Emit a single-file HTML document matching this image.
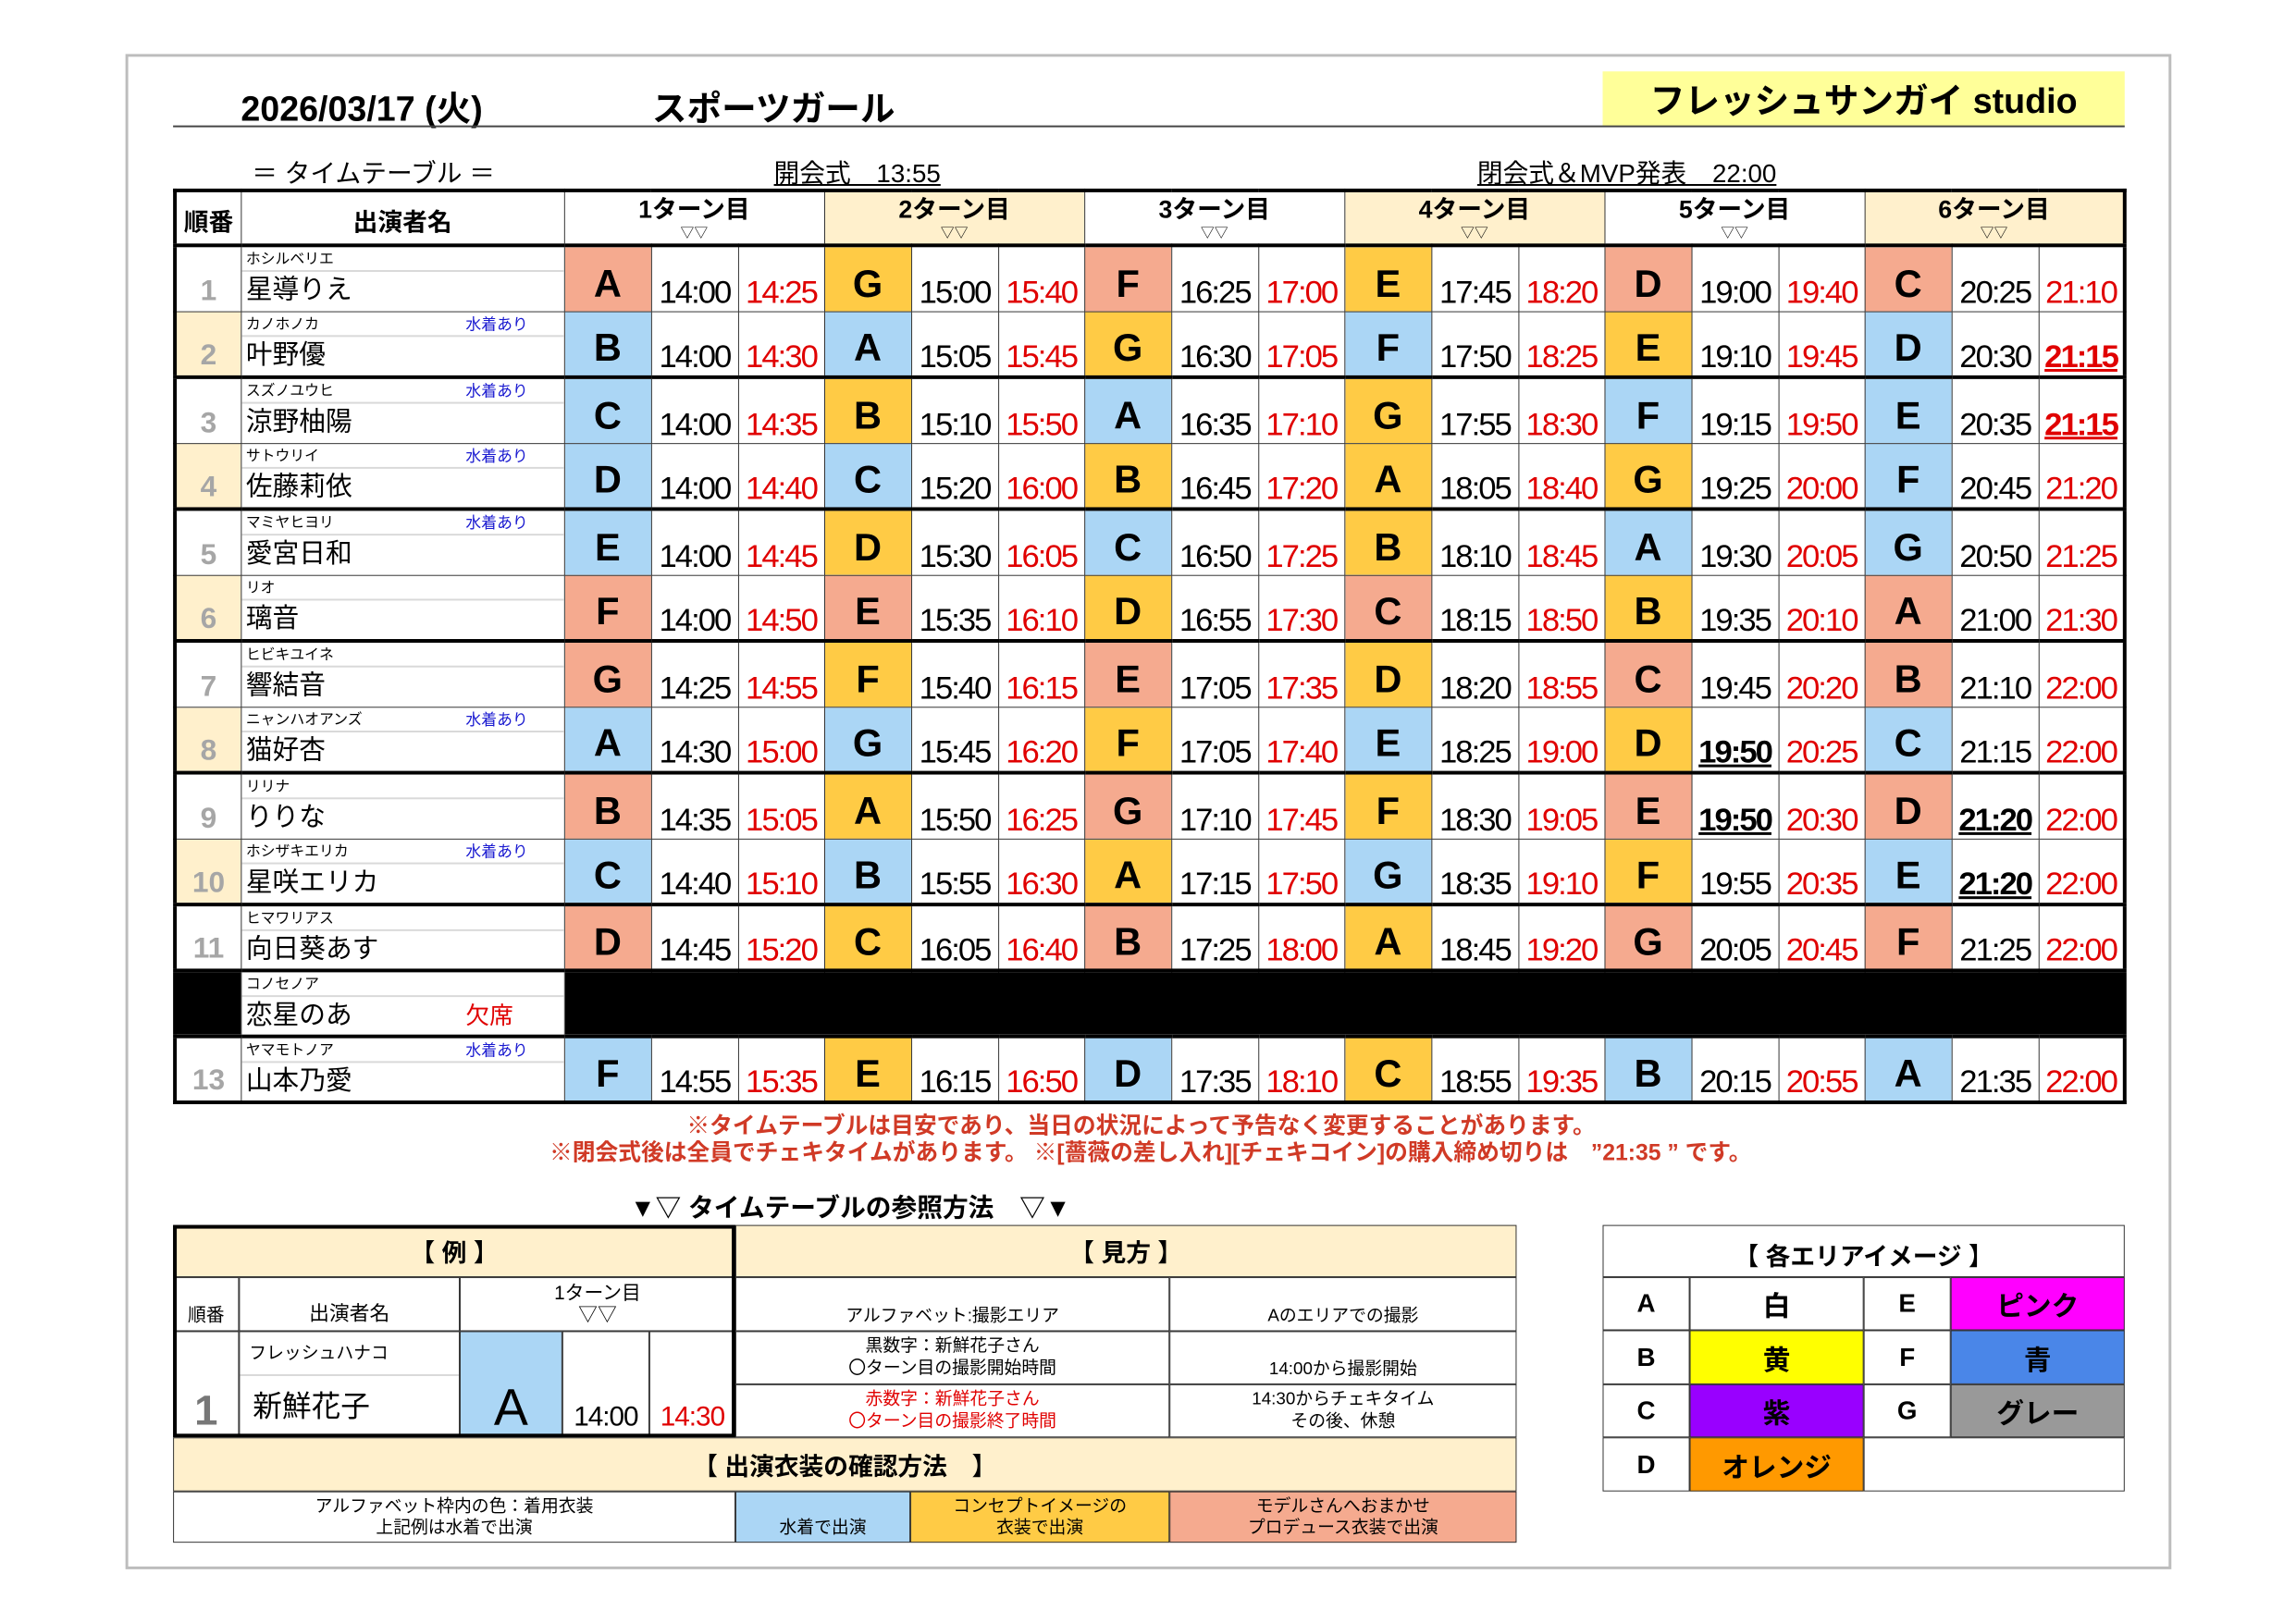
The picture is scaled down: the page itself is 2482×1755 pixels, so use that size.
<!DOCTYPE html>
<html><head><meta charset="utf-8">
<style>
*{margin:0;padding:0;box-sizing:border-box}
body{width:2482px;height:1755px;background:#fff;position:relative;overflow:hidden;font-family:"Liberation Sans","Noto Sans CJK JP",sans-serif;color:#000}
#w{position:absolute;left:0;top:0;width:2482px;height:1755px;transform:scale(0.99);transform-origin:0 0}
.a{position:absolute;white-space:nowrap}
.frame{left:137px;top:59px;width:2234px;height:1655px;border:3px solid #bdbdbd}
table.m{position:absolute;left:189px;top:206px;width:2131px;border-collapse:collapse;table-layout:fixed;border:4px solid #000}
table.m td{border:1.5px solid #333;overflow:hidden;white-space:nowrap;padding:0}
tr.h td{height:60px;font-weight:bold;text-align:center;vertical-align:bottom;border-bottom:4px solid #000}
tr.rw td{height:72px}
tr.k td{border-top:4px solid #000}
.no{text-align:center;vertical-align:bottom;color:#a6a6a6;font-weight:bold;font-size:32px;padding-bottom:4px!important}
.y{background:#fff0cc}
.nm{vertical-align:top;position:relative;text-align:left}
.kn{height:27px;font-size:16px;line-height:27px;padding-left:5px;border-bottom:2px solid #d9d9d9;position:relative}
.sw{position:absolute;left:245px;top:0;color:#1a1ad0;font-size:17px}
.nn{font-size:29px;line-height:41px;padding-left:5px;position:relative}
.L{text-align:center;font-weight:bold;font-size:42px;vertical-align:middle;padding-top:10px!important}
.s{background:#f5aa8f}.b{background:#abd6f5}.o{background:#ffcb45}
.t,.rd{text-align:center;vertical-align:bottom;font-size:35px;letter-spacing:-2px;line-height:40px}
.rd{color:#e00000}
.u{font-weight:bold;text-decoration:underline;text-decoration-thickness:3px}
.tn{font-size:27px;line-height:30px}
.tv{font-size:15px;line-height:22px;font-weight:normal}
.bx{position:absolute;border:1.5px solid #333;display:flex;align-items:center;justify-content:center;text-align:center;flex-direction:column;overflow:hidden}
</style></head><body><div id="w">
<div class="a frame"></div>
<div class="a" style="left:263px;top:88px;font-size:38px;font-weight:bold">2026/03/17 (火)</div>
<div class="a" style="left:712px;top:88px;font-size:38px;font-weight:bold">スポーツガール</div>
<div class="a" style="left:1750px;top:78px;width:570px;height:60px;background:#ffff99;font-size:38px;font-weight:bold;text-align:center;line-height:66px">フレッシュサンガイ studio</div>
<div class="a" style="left:189px;top:137px;width:2131px;height:2px;background:#444"></div>
<div class="a" style="left:275px;top:168px;font-size:28px">＝ タイムテーブル ＝</div>
<div class="a" style="left:845px;top:168px;font-size:28px;text-decoration:underline">開会式　13:55</div>
<div class="a" style="left:1613px;top:168px;font-size:28px;text-decoration:underline">閉会式＆MVP発表　22:00</div>

<table class="m">
<colgroup><col style="width:72px"><col style="width:353px">
<col style="width:95px"><col style="width:95px"><col style="width:94px">
<col style="width:95px"><col style="width:95px"><col style="width:94px">
<col style="width:95px"><col style="width:95px"><col style="width:94px">
<col style="width:95px"><col style="width:95px"><col style="width:94px">
<col style="width:95px"><col style="width:95px"><col style="width:94px">
<col style="width:95px"><col style="width:95px"><col style="width:94px"></colgroup>
<tr class="h"><td style="font-size:27px;padding-bottom:6px">順番</td><td style="font-size:27px;padding-bottom:6px">出演者名</td>
<td colspan="3"><div class="tn">1ターン目</div><div class="tv">▽▽</div></td>
<td colspan="3" class="y"><div class="tn">2ターン目</div><div class="tv">▽▽</div></td>
<td colspan="3"><div class="tn">3ターン目</div><div class="tv">▽▽</div></td>
<td colspan="3" class="y"><div class="tn">4ターン目</div><div class="tv">▽▽</div></td>
<td colspan="3"><div class="tn">5ターン目</div><div class="tv">▽▽</div></td>
<td colspan="3" class="y"><div class="tn">6ターン目</div><div class="tv">▽▽</div></td></tr>

<tr class="rw"><td class="no">1</td><td class="nm"><div class="kn">ホシルベリエ</div><div class="nn">星導りえ</div></td>
<td class="L s">A</td><td class="t">14:00</td><td class="rd">14:25</td><td class="L o">G</td><td class="t">15:00</td><td class="rd">15:40</td><td class="L s">F</td><td class="t">16:25</td><td class="rd">17:00</td><td class="L o">E</td><td class="t">17:45</td><td class="rd">18:20</td><td class="L s">D</td><td class="t">19:00</td><td class="rd">19:40</td><td class="L s">C</td><td class="t">20:25</td><td class="rd">21:10</td></tr>

<tr class="rw"><td class="no y">2</td><td class="nm"><div class="kn">カノホノカ<span class="sw">水着あり</span></div><div class="nn">叶野優</div></td>
<td class="L b">B</td><td class="t">14:00</td><td class="rd">14:30</td><td class="L b">A</td><td class="t">15:05</td><td class="rd">15:45</td><td class="L o">G</td><td class="t">16:30</td><td class="rd">17:05</td><td class="L b">F</td><td class="t">17:50</td><td class="rd">18:25</td><td class="L o">E</td><td class="t">19:10</td><td class="rd">19:45</td><td class="L b">D</td><td class="t">20:30</td><td class="rd u">21:15</td></tr>

<tr class="rw k"><td class="no">3</td><td class="nm"><div class="kn">スズノユウヒ<span class="sw">水着あり</span></div><div class="nn">涼野柚陽</div></td>
<td class="L b">C</td><td class="t">14:00</td><td class="rd">14:35</td><td class="L o">B</td><td class="t">15:10</td><td class="rd">15:50</td><td class="L b">A</td><td class="t">16:35</td><td class="rd">17:10</td><td class="L o">G</td><td class="t">17:55</td><td class="rd">18:30</td><td class="L b">F</td><td class="t">19:15</td><td class="rd">19:50</td><td class="L b">E</td><td class="t">20:35</td><td class="rd u">21:15</td></tr>

<tr class="rw"><td class="no y">4</td><td class="nm"><div class="kn">サトウリイ<span class="sw">水着あり</span></div><div class="nn">佐藤莉依</div></td>
<td class="L b">D</td><td class="t">14:00</td><td class="rd">14:40</td><td class="L b">C</td><td class="t">15:20</td><td class="rd">16:00</td><td class="L o">B</td><td class="t">16:45</td><td class="rd">17:20</td><td class="L o">A</td><td class="t">18:05</td><td class="rd">18:40</td><td class="L o">G</td><td class="t">19:25</td><td class="rd">20:00</td><td class="L b">F</td><td class="t">20:45</td><td class="rd">21:20</td></tr>

<tr class="rw k"><td class="no">5</td><td class="nm"><div class="kn">マミヤヒヨリ<span class="sw">水着あり</span></div><div class="nn">愛宮日和</div></td>
<td class="L b">E</td><td class="t">14:00</td><td class="rd">14:45</td><td class="L o">D</td><td class="t">15:30</td><td class="rd">16:05</td><td class="L b">C</td><td class="t">16:50</td><td class="rd">17:25</td><td class="L o">B</td><td class="t">18:10</td><td class="rd">18:45</td><td class="L b">A</td><td class="t">19:30</td><td class="rd">20:05</td><td class="L b">G</td><td class="t">20:50</td><td class="rd">21:25</td></tr>

<tr class="rw"><td class="no y">6</td><td class="nm"><div class="kn">リオ</div><div class="nn">璃音</div></td>
<td class="L s">F</td><td class="t">14:00</td><td class="rd">14:50</td><td class="L s">E</td><td class="t">15:35</td><td class="rd">16:10</td><td class="L o">D</td><td class="t">16:55</td><td class="rd">17:30</td><td class="L s">C</td><td class="t">18:15</td><td class="rd">18:50</td><td class="L o">B</td><td class="t">19:35</td><td class="rd">20:10</td><td class="L s">A</td><td class="t">21:00</td><td class="rd">21:30</td></tr>

<tr class="rw k"><td class="no">7</td><td class="nm"><div class="kn">ヒビキユイネ</div><div class="nn">響結音</div></td>
<td class="L s">G</td><td class="t">14:25</td><td class="rd">14:55</td><td class="L o">F</td><td class="t">15:40</td><td class="rd">16:15</td><td class="L s">E</td><td class="t">17:05</td><td class="rd">17:35</td><td class="L o">D</td><td class="t">18:20</td><td class="rd">18:55</td><td class="L s">C</td><td class="t">19:45</td><td class="rd">20:20</td><td class="L s">B</td><td class="t">21:10</td><td class="rd">22:00</td></tr>

<tr class="rw"><td class="no y">8</td><td class="nm"><div class="kn">ニャンハオアンズ<span class="sw">水着あり</span></div><div class="nn">猫好杏</div></td>
<td class="L b">A</td><td class="t">14:30</td><td class="rd">15:00</td><td class="L b">G</td><td class="t">15:45</td><td class="rd">16:20</td><td class="L o">F</td><td class="t">17:05</td><td class="rd">17:40</td><td class="L b">E</td><td class="t">18:25</td><td class="rd">19:00</td><td class="L o">D</td><td class="t u">19:50</td><td class="rd">20:25</td><td class="L b">C</td><td class="t">21:15</td><td class="rd">22:00</td></tr>

<tr class="rw k"><td class="no">9</td><td class="nm"><div class="kn">リリナ</div><div class="nn">りりな</div></td>
<td class="L s">B</td><td class="t">14:35</td><td class="rd">15:05</td><td class="L o">A</td><td class="t">15:50</td><td class="rd">16:25</td><td class="L s">G</td><td class="t">17:10</td><td class="rd">17:45</td><td class="L o">F</td><td class="t">18:30</td><td class="rd">19:05</td><td class="L s">E</td><td class="t u">19:50</td><td class="rd">20:30</td><td class="L s">D</td><td class="t u">21:20</td><td class="rd">22:00</td></tr>

<tr class="rw"><td class="no y">10</td><td class="nm"><div class="kn">ホシザキエリカ<span class="sw">水着あり</span></div><div class="nn">星咲エリカ</div></td>
<td class="L b">C</td><td class="t">14:40</td><td class="rd">15:10</td><td class="L b">B</td><td class="t">15:55</td><td class="rd">16:30</td><td class="L o">A</td><td class="t">17:15</td><td class="rd">17:50</td><td class="L b">G</td><td class="t">18:35</td><td class="rd">19:10</td><td class="L o">F</td><td class="t">19:55</td><td class="rd">20:35</td><td class="L b">E</td><td class="t u">21:20</td><td class="rd">22:00</td></tr>

<tr class="rw k"><td class="no">11</td><td class="nm"><div class="kn">ヒマワリアス</div><div class="nn">向日葵あす</div></td>
<td class="L s">D</td><td class="t">14:45</td><td class="rd">15:20</td><td class="L o">C</td><td class="t">16:05</td><td class="rd">16:40</td><td class="L s">B</td><td class="t">17:25</td><td class="rd">18:00</td><td class="L o">A</td><td class="t">18:45</td><td class="rd">19:20</td><td class="L s">G</td><td class="t">20:05</td><td class="rd">20:45</td><td class="L s">F</td><td class="t">21:25</td><td class="rd">22:00</td></tr>

<tr class="rw k"><td class="no" style="background:#000"></td><td class="nm"><div class="kn">コノセノア</div><div class="nn">恋星のあ<span style="position:absolute;left:245px;color:#e00000;font-size:26px">欠席</span></div></td>
<td colspan="18" style="background:#000"></td></tr>

<tr class="rw k"><td class="no">13</td><td class="nm"><div class="kn">ヤマモトノア<span class="sw">水着あり</span></div><div class="nn">山本乃愛</div></td>
<td class="L b">F</td><td class="t">14:55</td><td class="rd">15:35</td><td class="L o">E</td><td class="t">16:15</td><td class="rd">16:50</td><td class="L b">D</td><td class="t">17:35</td><td class="rd">18:10</td><td class="L o">C</td><td class="t">18:55</td><td class="rd">19:35</td><td class="L b">B</td><td class="t">20:15</td><td class="rd">20:55</td><td class="L b">A</td><td class="t">21:35</td><td class="rd">22:00</td></tr>
</table>

<div class="a" style="left:0;width:2482px;top:1210px;text-align:center;font-size:25px;font-weight:bold;color:#d03a26;padding-left:10px">※タイムテーブルは目安であり、当日の状況によって予告なく変更することがあります。</div>
<div class="a" style="left:600px;top:1239px;font-size:25px;font-weight:bold;color:#d03a26">※閉会式後は全員でチェキタイムがあります。 ※[薔薇の差し入れ][チェキコイン]の購入締め切りは　”21:35 ” です。</div>
<div class="a" style="left:688px;top:1298px;font-size:28px;font-weight:bold">▼▽ タイムテーブルの参照方法　▽▼</div>

<div class="bx y" style="left:189px;top:1338px;width:614px;height:57px;font-size:27px;font-weight:bold">【 例 】</div>
<div class="bx y" style="left:803px;top:1338px;width:853px;height:57px;font-size:27px;font-weight:bold">【 見方 】</div>
<div class="bx" style="left:189px;top:1395px;width:72px;height:59px;font-size:20px;justify-content:flex-end;padding-bottom:4px">順番</div>
<div class="bx" style="left:261px;top:1395px;width:241px;height:59px;font-size:22px;justify-content:flex-end;padding-bottom:4px">出演者名</div>
<div class="bx" style="left:502px;top:1395px;width:301px;height:59px;font-size:21px;line-height:24px">1ターン目<br>▽▽</div>
<div class="bx" style="left:803px;top:1395px;width:474px;height:59px;font-size:19px;justify-content:flex-end;padding-bottom:4px">アルファベット:撮影エリア</div>
<div class="bx" style="left:1277px;top:1395px;width:379px;height:59px;font-size:19px;justify-content:flex-end;padding-bottom:4px">Aのエリアでの撮影</div>
<div class="bx" style="left:189px;top:1454px;width:72px;height:116px;font-size:46px;color:#777;font-weight:bold;justify-content:flex-end;padding-bottom:2px">1</div>
<div class="bx" style="left:261px;top:1454px;width:241px;height:116px;align-items:flex-start;justify-content:flex-end">
<div style="font-size:19px;padding-left:10px;height:48px;line-height:48px;width:100%;text-align:left;border-bottom:2px solid #d9d9d9">フレッシュハナコ</div>
<div style="font-size:32px;padding-left:14px;height:66px;line-height:66px;width:100%;text-align:left">新鮮花子</div></div>
<div class="bx b" style="left:502px;top:1454px;width:112px;height:116px;font-size:56px;justify-content:flex-end">A</div>
<div class="bx" style="left:614px;top:1454px;width:95px;height:116px;font-size:30px;letter-spacing:-1px;justify-content:flex-end;padding-bottom:4px">14:00</div>
<div class="bx" style="left:709px;top:1454px;width:94px;height:116px;font-size:30px;letter-spacing:-1px;color:#e00000;justify-content:flex-end;padding-bottom:4px">14:30</div>
<div class="a" style="left:189px;top:1338px;width:614px;height:232px;border:4px solid #000"></div>
<div class="bx" style="left:803px;top:1454px;width:474px;height:58px;font-size:19px;line-height:24px">黒数字：新鮮花子さん<br>〇ターン目の撮影開始時間</div>
<div class="bx" style="left:1277px;top:1454px;width:379px;height:58px;font-size:19px;justify-content:flex-end;padding-bottom:4px">14:00から撮影開始</div>
<div class="bx" style="left:803px;top:1512px;width:474px;height:58px;font-size:19px;line-height:24px;color:#e00000">赤数字：新鮮花子さん<br>〇ターン目の撮影終了時間</div>
<div class="bx" style="left:1277px;top:1512px;width:379px;height:58px;font-size:19px;line-height:24px">14:30からチェキタイム<br>その後、休憩</div>
<div class="bx y" style="left:189px;top:1570px;width:1467px;height:59px;font-size:27px;font-weight:bold">【 出演衣装の確認方法　】</div>
<div class="bx" style="left:189px;top:1629px;width:614px;height:56px;font-size:19px;line-height:23px">アルファベット枠内の色：着用衣装<br>上記例は水着で出演</div>
<div class="bx b" style="left:803px;top:1629px;width:191px;height:56px;font-size:19px;justify-content:flex-end;padding-bottom:4px">水着で出演</div>
<div class="bx o" style="left:994px;top:1629px;width:283px;height:56px;font-size:19px;line-height:23px">コンセプトイメージの<br>衣装で出演</div>
<div class="bx s" style="left:1277px;top:1629px;width:379px;height:56px;font-size:19px;line-height:23px">モデルさんへおまかせ<br>プロデュース衣装で出演</div>

<div class="bx" style="left:1750px;top:1338px;width:570px;height:57px;font-size:27px;font-weight:bold;justify-content:flex-end;padding-bottom:4px">【 各エリアイメージ 】</div>
<div class="bx" style="left:1750px;top:1395px;width:95px;height:58px;font-size:28px;font-weight:bold">A</div>
<div class="bx" style="left:1845px;top:1395px;width:190px;height:58px;font-size:30px;font-weight:bold">白</div>
<div class="bx" style="left:2035px;top:1395px;width:95px;height:58px;font-size:28px;font-weight:bold">E</div>
<div class="bx" style="left:2130px;top:1395px;width:190px;height:58px;font-size:30px;font-weight:bold;background:#ff00ff">ピンク</div>
<div class="bx" style="left:1750px;top:1453px;width:95px;height:59px;font-size:28px;font-weight:bold">B</div>
<div class="bx" style="left:1845px;top:1453px;width:190px;height:59px;font-size:30px;font-weight:bold;background:#ffff00">黄</div>
<div class="bx" style="left:2035px;top:1453px;width:95px;height:59px;font-size:28px;font-weight:bold">F</div>
<div class="bx" style="left:2130px;top:1453px;width:190px;height:59px;font-size:30px;font-weight:bold;background:#4a86e8">青</div>
<div class="bx" style="left:1750px;top:1512px;width:95px;height:58px;font-size:28px;font-weight:bold">C</div>
<div class="bx" style="left:1845px;top:1512px;width:190px;height:58px;font-size:30px;font-weight:bold;background:#9900ff">紫</div>
<div class="bx" style="left:2035px;top:1512px;width:95px;height:58px;font-size:28px;font-weight:bold">G</div>
<div class="bx" style="left:2130px;top:1512px;width:190px;height:58px;font-size:30px;font-weight:bold;background:#999999">グレー</div>
<div class="bx" style="left:1750px;top:1570px;width:95px;height:59px;font-size:28px;font-weight:bold">D</div>
<div class="bx" style="left:1845px;top:1570px;width:190px;height:59px;font-size:30px;font-weight:bold;background:#ff9900">オレンジ</div>
<div class="bx" style="left:2035px;top:1570px;width:285px;height:59px"></div>
</div></body></html>
